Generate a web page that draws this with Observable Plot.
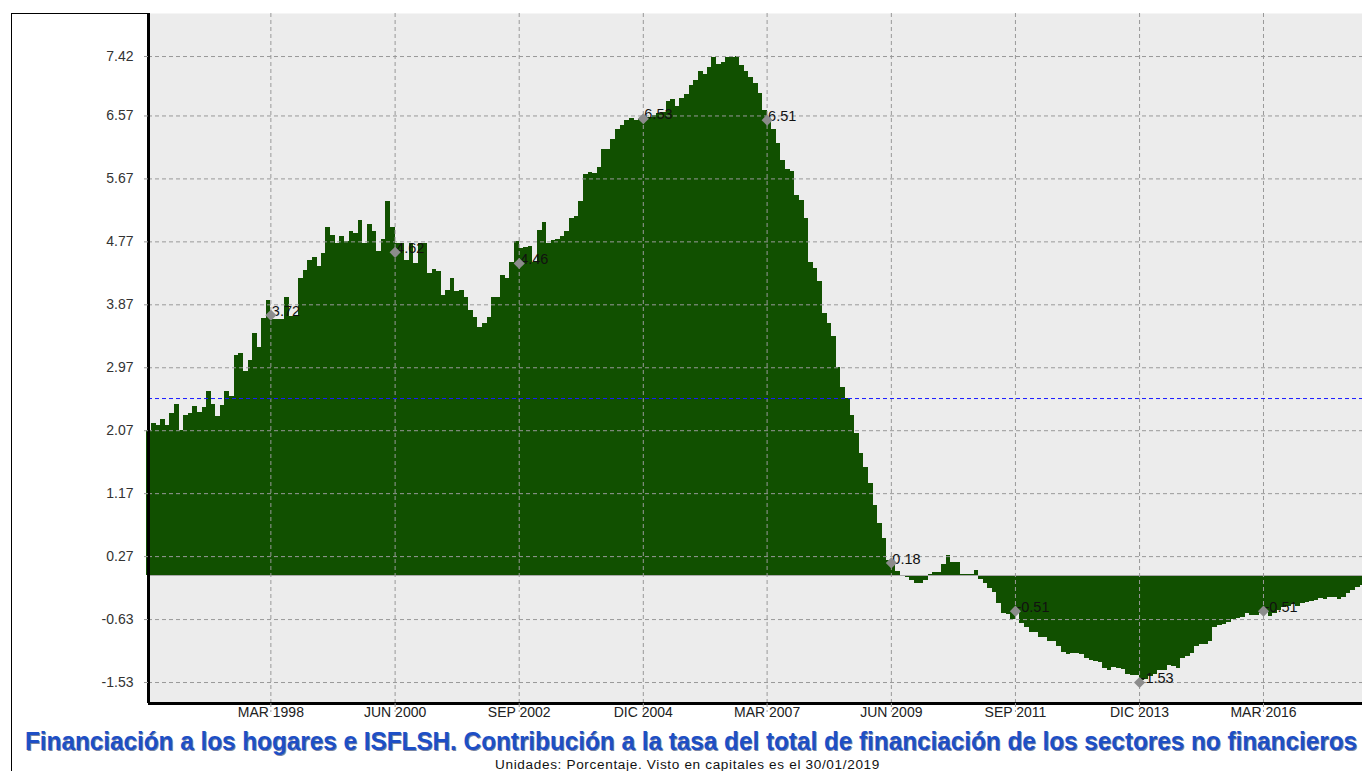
<!DOCTYPE html>
<html>
<head>
<meta charset="utf-8">
<script src="https://cdn.jsdelivr.net/npm/d3@7"></script>
<script src="https://cdn.jsdelivr.net/npm/@observablehq/plot@0.6"></script>
<style>
  html, body { margin: 0; padding: 0; background: #fff; width: 1362px; height: 771px; overflow: hidden; position: relative; }
  #frame { position: absolute; left: 11px; top: 13px; width: 137px; height: 760px; border-left: 1px solid #000; border-top: 1px solid #000; pointer-events: none; }
  #chart { position: absolute; left: 0; top: 0; }
  #title { position: absolute; top: 726px; left: 25px; width: 3000px; text-align: left; white-space: nowrap;
           font-family: "Liberation Sans Narrow", "Arial Narrow", "Liberation Sans", sans-serif; font-weight: bold; font-size: 25px; line-height: 30px;
           color: #1d4fc6; text-shadow: 1px 1px 0 rgba(5,25,80,0.55); }
  #title span, #subtitle span { display: inline-block; transform-origin: left center; }
  #subtitle { position: absolute; top: 758px; left: 495px; width: 3000px; text-align: left; white-space: nowrap;
              font-family: "Liberation Sans", Arial, sans-serif; font-size: 12.5px; line-height: 14px; color: #111; letter-spacing: 0.6px; }
</style>
</head>
<body>
<div id="chart"></div>
<div id="frame"></div>
<div id="title"><span>Financiación a los hogares e ISFLSH. Contribución a la tasa del total de financiación de los sectores no financieros</span></div>
<div id="subtitle"><span>Unidades: Porcentaje. Visto en capitales es el 30/01/2019</span></div>
<script>
// Monthly series, first value = December 1995
const firstMonth = "1995-12-01";
const values = [
  2.07, 2.18, 2.14, 2.23, 2.14, 2.31, 2.45, 2.07, 2.29, 2.31, 2.42, 2.33, 2.40,
  2.63, 2.45, 2.28, 2.43, 2.63, 2.56, 3.14, 3.18, 2.91, 3.08, 3.46, 3.26, 3.67,
  3.93, 3.66, 3.66, 3.66, 3.97, 3.70, 3.70, 4.24, 4.36, 4.51, 4.54, 4.42, 4.60,
  4.97, 4.86, 4.75, 4.84, 4.77, 4.92, 4.89, 5.07, 4.74, 5.02, 4.92, 4.63, 4.80,
  5.35, 4.97, 4.74, 4.74, 4.50, 4.74, 4.46, 4.74, 4.74, 4.32, 4.38, 4.35, 4.00,
  4.07, 4.24, 4.06, 4.08, 3.97, 3.79, 3.69, 3.55, 3.60, 3.69, 3.98, 3.97, 4.29,
  4.24, 4.47, 4.77, 4.67, 4.69, 4.71, 4.48, 4.93, 5.05, 4.74, 4.79, 4.80, 4.85,
  4.92, 5.11, 5.13, 5.34, 5.73, 5.76, 5.75, 5.83, 6.09, 6.09, 6.24, 6.37, 6.43,
  6.51, 6.54, 6.51, 6.52, 6.53, 6.55, 6.57, 6.60, 6.62, 6.77, 6.80, 6.70, 6.82,
  6.87, 7.00, 7.08, 7.21, 7.17, 7.26, 7.40, 7.31, 7.34, 7.40, 7.40, 7.42, 7.29,
  7.20, 7.12, 7.04, 6.89, 6.65, 6.51, 6.38, 6.17, 5.94, 5.80, 5.77, 5.44, 5.36,
  5.10, 4.48, 4.39, 4.20, 3.74, 3.60, 3.41, 2.97, 2.69, 2.53, 2.29, 2.03, 1.75,
  1.54, 1.32, 1.00, 0.75, 0.53, 0.22, 0.19, 0.06, -0.02, -0.03, -0.07, -0.11, -0.11,
  -0.07, 0.02, 0.04, 0.05, 0.16, 0.28, 0.18, 0.18, 0.01, 0.01, 0.01, 0.07, -0.06,
  -0.11, -0.18, -0.25, -0.40, -0.55, -0.56, -0.63, -0.52, -0.68, -0.74, -0.81, -0.81,
  -0.88, -0.88, -0.95, -0.95, -1.02, -1.10, -1.13, -1.11, -1.12, -1.13, -1.19, -1.22,
  -1.23, -1.24, -1.33, -1.36, -1.32, -1.33, -1.34, -1.41, -1.43, -1.43, -1.50, -1.49,
  -1.45, -1.41, -1.36, -1.36, -1.29, -1.30, -1.33, -1.19, -1.16, -1.11, -1.02, -0.98,
  -0.98, -0.94, -0.75, -0.72, -0.70, -0.67, -0.63, -0.62, -0.60, -0.54, -0.57, -0.57,
  -0.54, -0.52, -0.59, -0.55, -0.50, -0.46, -0.44, -0.42, -0.44, -0.40, -0.39, -0.37,
  -0.36, -0.33, -0.34, -0.32, -0.31, -0.34, -0.31, -0.26, -0.22, -0.17, -0.14
];

const xTickMonths = ["1998-03-01", "2000-06-01", "2002-09-01", "2004-12-01", "2007-03-01", "2009-06-01", "2011-09-01", "2013-12-01", "2016-03-01"];
const xTickLabels = ["MAR 1998", "JUN 2000", "SEP 2002", "DIC 2004", "MAR 2007", "JUN 2009", "SEP 2011", "DIC 2013", "MAR 2016"];
const markerValues = [3.72, 4.62, 4.46, 6.53, 6.51, 0.18, -0.51, -1.53, -0.51];
const yTicks = [-1.53, -0.63, 0.27, 1.17, 2.07, 2.97, 3.87, 4.77, 5.67, 6.57, 7.42];
const averageValue = 2.53;

// scale configuration
const xDomain = [new Date("1995-12-11T12:00:00Z"), new Date("2017-12-16T19:00:00Z")];
const yDomain = [-1.83, 8.035];

const start = new Date(firstMonth + "T00:00:00Z");
const bars = values.map((v, i) => ({
  date: d3.utcMonth.offset(start, i),
  next: d3.utcMonth.offset(start, i + 1),
  value: v
}));
const tickDates = xTickMonths.map(s => new Date(s + "T00:00:00Z"));
const labelMap = new Map(tickDates.map((d, i) => [+d, xTickLabels[i]]));
const markers = tickDates.map((d, i) => ({date: d, value: markerValues[i]}));

const narrow = '"Liberation Sans Narrow", "Arial Narrow", "Liberation Sans", sans-serif';

const chart = Plot.plot({
  width: 1362,
  height: 722,
  marginLeft: 148,
  marginRight: 0,
  marginTop: 13,
  marginBottom: 19,
  x: {type: "utc", domain: xDomain, label: null},
  y: {domain: yDomain, label: null},
  style: {fontFamily: '"Liberation Sans", Arial, sans-serif', background: "transparent", overflow: "visible"},
  marks: [
    Plot.frame({fill: "#ececec", stroke: null}),
    Plot.rectY(bars, {x1: "date", x2: "next", y: "value", fill: "#115000", inset: 0, shapeRendering: "crispEdges"}),
    Plot.ruleY([0], {stroke: "#aaaaaa", strokeWidth: 1}),
    Plot.gridY(yTicks, {stroke: "#999", strokeOpacity: 1, strokeDasharray: "4,3"}),
    Plot.gridX(tickDates, {stroke: "#999", strokeOpacity: 1, strokeDasharray: "4,3"}),
    Plot.ruleY([averageValue], {stroke: "#1a1aff", strokeWidth: 1, strokeDasharray: "4,3"}),
    Plot.text(markers, {x: "date", y: "value", text: d => d.value.toFixed(2), textAnchor: "start", dx: 1, dy: -4, fontSize: 14.5, fill: "#111"}),
    Plot.dot(markers, {x: "date", y: "value", symbol: "diamond2", r: 5, fill: "#8c8c8c", stroke: "none"}),
    Plot.ruleX([xDomain[0]], {stroke: "#000", strokeWidth: 3}),
    Plot.ruleY([yDomain[0]], {stroke: "#000", strokeWidth: 3}),
    Plot.axisY(yTicks, {tickFormat: d => d.toFixed(2), tickSize: 7, tickPadding: 8, fontSize: 14, label: null}),
    Plot.axisX(tickDates, {tickFormat: d => labelMap.get(+d), tickSize: 9, tickPadding: -5, fontSize: 14, label: null})
  ]
});
document.getElementById("chart").appendChild(chart);

// style axes
const svg = d3.select(chart);
svg.selectAll('g[aria-label="y-axis tick"] path, g[aria-label="x-axis tick"] path')
  .attr("stroke", "#999").attr("stroke-dasharray", "4,3");
svg.selectAll('g[aria-label="y-axis tick label"]').attr("fill", "#333");
svg.selectAll('g[aria-label="x-axis tick label"]').attr("fill", "#222").style("font-family", narrow);

// fit title and subtitle widths to the reference
function fit(id, target) {
  const el = document.querySelector("#" + id + " span");
  const w = el.getBoundingClientRect().width;
  if (w > 0) el.style.transform = "scaleX(" + (target / w) + ")";
}
fit("title", 1332);
fit("subtitle", 385);
</script>
</body>
</html>
